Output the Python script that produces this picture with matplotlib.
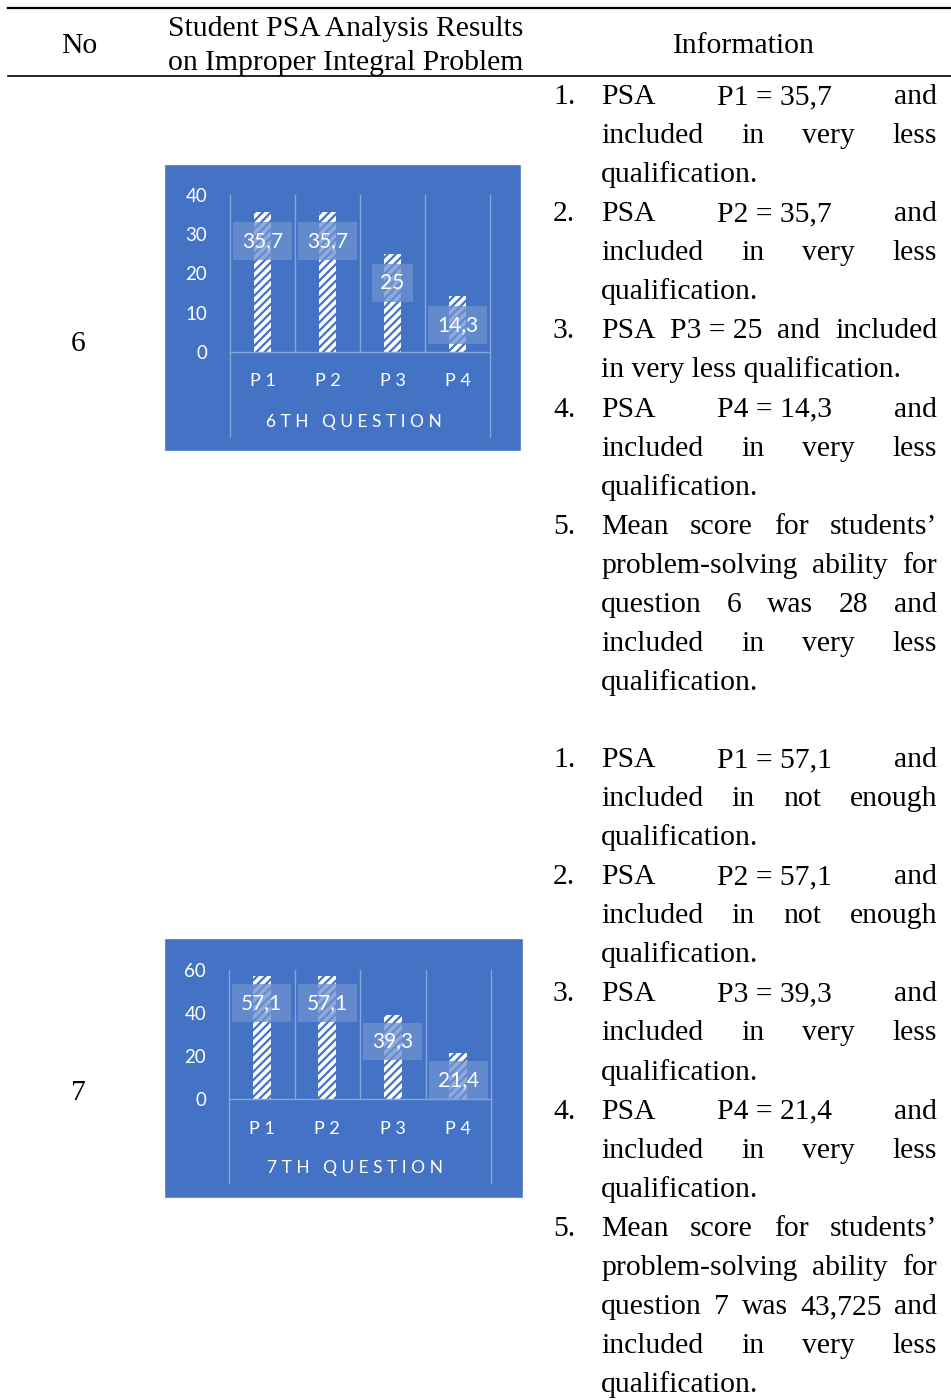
import matplotlib
matplotlib.use("Agg")
import matplotlib.pyplot as plt
from matplotlib.patches import Rectangle
import matplotlib.transforms as mtransforms

# ---------------------------------------------------------------- data
categories = ["P 1", "P 2", "P 3", "P 4"]
q6_scores = [35.7, 35.7, 25, 14.3]
q7_scores = [57.1, 57.1, 39.3, 21.4]
q6_ticks = [0, 10, 20, 30, 40]
q7_ticks = [0, 20, 40, 60]
q6_title = "6 T H   Q U E S T I O N"
q7_title = "7 T H   Q U E S T I O N"
q6_mean_text = "28"
q7_mean_text = "43,725"

header_col2 = ["Student PSA Analysis Results", "on Improper Integral Problem"]

NB = "\u00a0"


def fmt(v):
    return f"{v:g}".replace(".", ",")


def psa(i, v):
    return f"PSA P{i}{NB}={NB}{fmt(v)}"


# Information column, one list of lines per numbered item
info_q6 = [
    [psa(1, q6_scores[0]) + " and", "included in very less", "qualification."],
    [psa(2, q6_scores[1]) + " and", "included in very less", "qualification."],
    [f"PSA P3{NB}={NB}{fmt(q6_scores[2])} and included", "in very less qualification."],
    [psa(4, q6_scores[3]) + " and", "included in very less", "qualification."],
    ["Mean score for students\u2019", "problem-solving ability for",
     f"question 6 was {q6_mean_text} and", "included in very less", "qualification."],
]
info_q7 = [
    [psa(1, q7_scores[0]) + " and", "included in not enough", "qualification."],
    [psa(2, q7_scores[1]) + " and", "included in not enough", "qualification."],
    [psa(3, q7_scores[2]) + " and", "included in very less", "qualification."],
    [psa(4, q7_scores[3]) + " and", "included in very less", "qualification."],
    ["Mean score for students\u2019", "problem-solving ability for",
     f"question 7 was {q7_mean_text} and", "included in very less", "qualification."],
]

# ---------------------------------------------------------------- page
W, H = 951, 1400
SERIF = "Liberation Serif"
SANS = "Lato"
FS = 21.3
BLUE = "#4472C4"
LINE = "#88A5DA"

fig = plt.figure(figsize=(W / 100, H / 100), dpi=100)
page = fig.add_axes([0, 0, 1, 1])
page.set_xlim(0, W)
page.set_ylim(H, 0)
page.axis("off")
renderer = fig.canvas.get_renderer()

# table rules
page.plot([8, W], [8, 8], color="black", lw=1.6)
page.plot([8, W], [76, 76], color="black", lw=1.2)

# header
page.text(79, 53, "No", fontsize=FS, family=SERIF, ha="center", va="baseline")
page.text(168, 36, header_col2[0], fontsize=FS, family=SERIF, ha="left", va="baseline")
page.text(168, 70, header_col2[1], fontsize=FS, family=SERIF, ha="left", va="baseline")
page.text(744, 53, "Information", fontsize=FS, family=SERIF, ha="center", va="baseline")

# row numbers
page.text(78, 351, "6", fontsize=FS, family=SERIF, ha="center", va="baseline")
page.text(78, 1100, "7", fontsize=FS, family=SERIF, ha="center", va="baseline")


def text_width(s):
    t = page.text(0, 0, s, fontsize=FS, family=SERIF)
    w = t.get_window_extent(renderer).width
    t.remove()
    return w


def draw_line(s, y, x0, x1, justify):
    if not justify:
        page.text(x0, y, s.replace(NB, " "), fontsize=FS, family=SERIF,
                  ha="left", va="baseline")
        return
    words = [w.replace(NB, " ") for w in s.split(" ")]
    widths = [text_width(w) for w in words]
    gap = (x1 - x0 - sum(widths)) / (len(words) - 1)
    x = x0
    for w, wd in zip(words, widths):
        page.text(x, y, w, fontsize=FS, family=SERIF, ha="left", va="baseline")
        x += wd + gap


def draw_info(items, y_start, step=39.07, num_x=553, x0=601, x1=937):
    y = y_start
    for k, lines in enumerate(items, start=1):
        page.text(num_x, y, f"{k}.", fontsize=FS, family=SERIF, ha="left", va="baseline")
        for j, line in enumerate(lines):
            draw_line(line, y, x0, x1, justify=(j < len(lines) - 1))
            y += step


draw_info(info_q6, 104)
draw_info(info_q7, 767)

# ---------------------------------------------------------------- charts
plt.rcParams["hatch.linewidth"] = 1.6


def chart(box, plot, values, ticks, title, outer_ext, title_y, title_x,
          label_off, xtick_pad):
    bx0, by0, bx1, by1 = box
    page.add_patch(Rectangle((bx0, by0), bx1 - bx0, by1 - by0, facecolor=BLUE,
                             edgecolor="#6C8FD0", lw=0.8, zorder=0))
    px0, ptop, px1, pbot = plot
    ax = fig.add_axes([px0 / W, 1 - pbot / H, (px1 - px0) / W, (pbot - ptop) / H])
    ax.patch.set_visible(False)
    x = [i + 0.5 for i in range(len(values))]
    ax.bar(x, values, width=0.27, facecolor="white", edgecolor=BLUE, hatch="////",
           linewidth=0, zorder=2)
    ax.set_xlim(0, len(values))
    ax.set_ylim(ticks[0], ticks[-1])
    for s in ["top", "left", "right"]:
        ax.spines[s].set_visible(False)
    ax.spines["bottom"].set_color(LINE)
    ax.spines["bottom"].set_linewidth(1.0)
    ax.set_yticks(ticks)
    ax.set_yticklabels([str(t) for t in ticks], fontsize=13.5, family=SANS, color="white")
    ax.tick_params(axis="y", length=0, pad=16.5)
    ax.set_xticks(x)
    ax.set_xticklabels(categories, fontsize=13, family=SANS, color="white")
    ax.tick_params(axis="x", length=0, pad=xtick_pad)
    trans = mtransforms.blended_transform_factory(ax.transData, ax.transAxes)
    for i in range(len(values) + 1):
        y0 = outer_ext if i in (0, len(values)) else 0
        ax.plot([i, i], [y0, 1], color=LINE, lw=1.0, transform=trans, clip_on=False,
                zorder=1)
    for xi, v in zip(x, values):
        ax.annotate(fmt(v), (xi, v), xytext=(0, -label_off), textcoords="offset pixels",
                    ha="center", va="center", fontsize=15, family=SANS, color="white",
                    zorder=4,
                    bbox=dict(boxstyle="square,pad=0.42", facecolor="#6E91D2", alpha=0.78,
                              edgecolor="none"))
    ax.text(title_x, title_y, title, transform=ax.transAxes, ha="center", va="center",
            fontsize=12.5, family=SANS, color="white")
    return ax


chart((165, 165, 520, 450), (230, 195, 490, 352), q6_scores, q6_ticks, q6_title,
      -(437 - 352) / 157, -(422 - 352) / 157, (354 - 230) / 260, 29, 15)
chart((165, 939, 522, 1197), (229, 970, 491, 1099), q7_scores, q7_ticks, q7_title,
      -(1183 - 1099) / 129, -(1168 - 1099) / 129, (355 - 229) / 262, 27, 15.5)

fig.savefig("out.png", dpi=100)
